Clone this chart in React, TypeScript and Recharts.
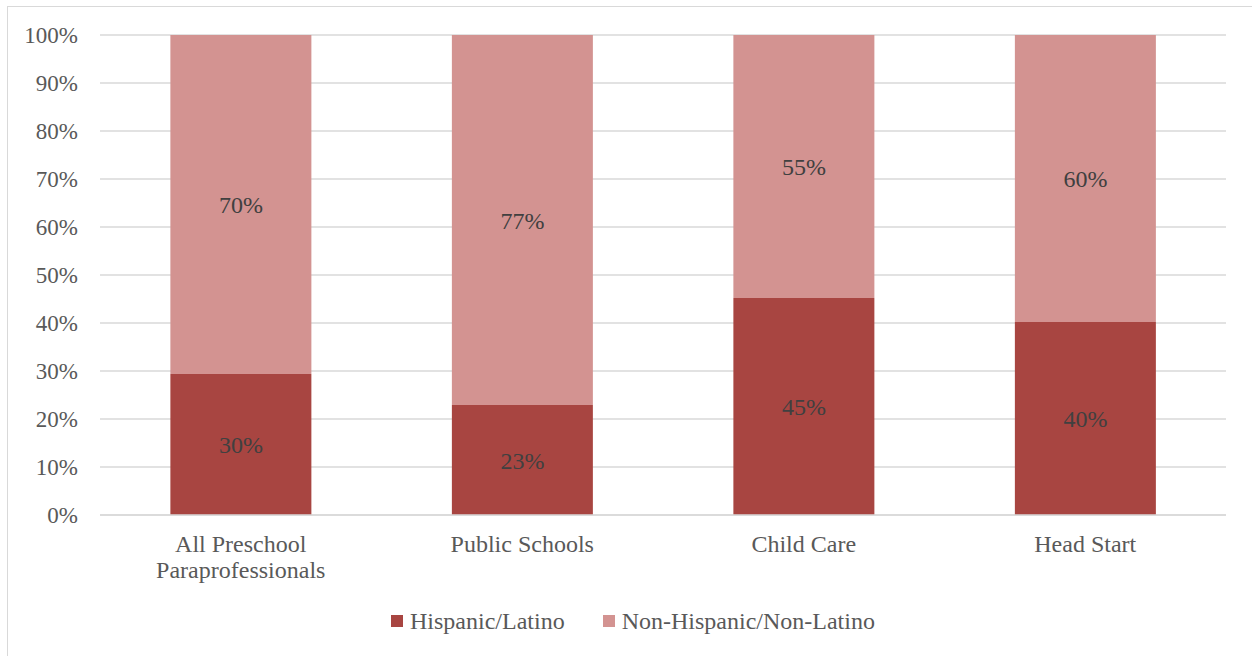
import { BarChart, Bar, XAxis, YAxis, CartesianGrid, Legend, LabelList } from 'recharts';

const categories = ['All Preschool\nParaprofessionals', 'Public Schools', 'Child Care', 'Head Start'];
const hispanic = [29.4, 22.9, 45.2, 40.2];
const nonHispanic = [70.6, 77.1, 54.8, 59.8];
const hispanicLabels = ['30%', '23%', '45%', '40%'];
const nonHispanicLabels = ['70%', '77%', '55%', '60%'];
const yTicks = [0, 10, 20, 30, 40, 50, 60, 70, 80, 90, 100];

const DARK = '#A84541';
const LIGHT = '#D39391';
const FONT = '"Liberation Serif", "Times New Roman", serif';

const data = categories.map((name, i) => ({
  name,
  hispanic: hispanic[i],
  nonHispanic: nonHispanic[i],
  hLabel: hispanicLabels[i],
  nLabel: nonHispanicLabels[i],
}));

const CategoryTick = ({ x, y, payload }: any) => {
  const lines = String(payload.value).split('\n');
  return (
    <text x={x} y={y} textAnchor="middle" fill="#595959" fontSize={24} fontFamily={FONT}>
      {lines.map((l, i) => (
        <tspan key={i} x={x} dy={i === 0 ? 29 : 26}>
          {l}
        </tspan>
      ))}
    </text>
  );
};

const LegendContent = () => (
  <div style={{ display: 'flex', justifyContent: 'center', alignItems: 'center', height: 40, fontFamily: FONT, fontSize: 24, color: '#595959' }}>
    {[
      { label: 'Hispanic/Latino', color: DARK },
      { label: 'Non-Hispanic/Non-Latino', color: LIGHT },
    ].map((item, i) => (
      <div key={item.label} style={{ display: 'flex', alignItems: 'center', marginLeft: i === 0 ? 0 : 38 }}>
        <span style={{ display: 'inline-block', width: 12, height: 12, background: item.color, marginRight: 7 }} />
        <span>{item.label}</span>
      </div>
    ))}
  </div>
);

export default function App() {
  return (
    <div
      style={{
        position: 'absolute',
        left: 7,
        top: 6,
        width: 1246,
        height: 652,
        border: '1px solid #d9d9d9',
        boxSizing: 'border-box',
        background: '#fff',
      }}
    >
      <BarChart
        width={1244}
        height={650}
        data={data}
        margin={{ top: 28, right: 26, left: 32, bottom: 16 }}
        barCategoryGap="25%"
      >
        <CartesianGrid vertical={false} stroke="#d9d9d9" strokeWidth={1.5} />
        <XAxis
          dataKey="name"
          axisLine={{ stroke: '#d9d9d9', strokeWidth: 1.5 }}
          tickLine={false}
          tick={<CategoryTick />}
          interval={0}
          height={86}
        />
        <YAxis
          domain={[0, 100]}
          ticks={yTicks}
          tickFormatter={(v) => `${v}%`}
          axisLine={false}
          tickLine={false}
          tickMargin={16}
          width={60}
          tick={{ fill: '#595959', fontSize: 23, fontFamily: FONT }}
        />
        <Legend verticalAlign="bottom" height={40} content={<LegendContent />} />
        <Bar dataKey="hispanic" stackId="a" fill={DARK} isAnimationActive={false}>
          <LabelList dataKey="hLabel" position="center" fill="#404040" fontSize={24} fontFamily={FONT} />
        </Bar>
        <Bar dataKey="nonHispanic" stackId="a" fill={LIGHT} isAnimationActive={false}>
          <LabelList dataKey="nLabel" position="center" fill="#404040" fontSize={24} fontFamily={FONT} />
        </Bar>
      </BarChart>
    </div>
  );
}
